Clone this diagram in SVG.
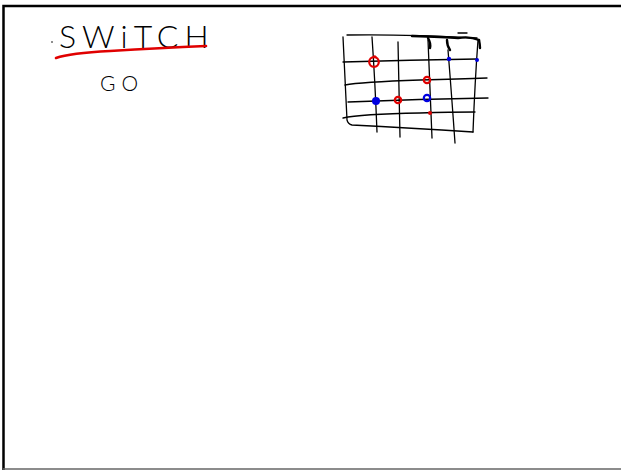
<svg xmlns="http://www.w3.org/2000/svg" width="621" height="470" viewBox="0 0 621 470">
<style>
.ink{fill:none;stroke:#000;stroke-width:1.3;stroke-linecap:round;stroke-linejoin:round}
.thick{fill:none;stroke:#000;stroke-width:2.4;stroke-linecap:round;stroke-linejoin:round}
.hand{font-family:Lato,"Liberation Sans",sans-serif;font-weight:300;fill:#000}
.rc{fill:none;stroke:#e00000;stroke-width:2.2}
.bc{fill:none;stroke:#0000e0;stroke-width:2.2}
</style>
<rect width="621" height="470" fill="#fff"/>
<g id="frame">
<path d="M3.5 470 V6 H621" fill="none" stroke="#000" stroke-width="2.5"/>
<path d="M3 469 H621" fill="none" stroke="#666" stroke-width="1.5"/>
</g>
<g id="title">
<text class="hand" x="59" y="48" font-size="32" letter-spacing="6">SWiTCH</text>
<path d="M56 58 Q70 53 110 51 Q160 48 206 46" fill="none" stroke="#e00000" stroke-width="2.6" stroke-linecap="round"/>
<circle cx="52" cy="42" r="0.8" fill="#000"/>
</g>
<g id="go">
<text class="hand" x="100" y="91" font-size="21" letter-spacing="6">GO</text>
</g>
<g id="grid">
<path class="ink" d="M347 35 Q400 34 477 38"/>
<path class="thick" d="M412 36 Q445 37 458 38 Q470 36 479 40"/>
<path class="thick" d="M428 38 Q431 43 430 48"/>
<path class="thick" d="M447 40 Q447 46 450 50"/>
<path class="thick" d="M479 40 Q480 45 480 48"/>
<path class="ink" d="M458 33 H467"/>
<path class="ink" d="M343 37 Q345 80 347 120 Q348 124 352 125 Q410 128 473 132"/>
<path class="ink" d="M372 37 Q375 80 377 132"/>
<path class="ink" d="M398 42 Q399 90 400 137"/>
<path class="ink" d="M428 40 Q430 90 432 138"/>
<path class="ink" d="M448 50 Q452 100 455 143"/>
<path class="ink" d="M478 40 Q475 80 473 132"/>
<path class="ink" d="M343 62 Q410 60 477 59"/>
<path class="ink" d="M345 85 Q360 82 420 80 Q460 79 487 78"/>
<path class="ink" d="M348 102 Q420 99 488 98"/>
<path class="ink" d="M343 118 Q360 114 420 113 Q450 112 475 112"/>
</g>
<g id="marks">
<circle class="rc" cx="374" cy="62" r="4.8" stroke-width="2.5"/>
<path d="M373 57 Q376 55 376 58" fill="none" stroke="#e00000" stroke-width="1.8"/>
<circle cx="449" cy="59" r="2.2" fill="#0000e0"/>
<circle cx="477" cy="60" r="2" fill="#0000e0"/>
<circle class="rc" cx="427" cy="80" r="3.2"/>
<circle cx="376" cy="101" r="4" fill="#0000e0"/>
<circle class="rc" cx="398" cy="100" r="3.2" stroke-width="2.6"/>
<circle class="bc" cx="427" cy="98" r="3.2"/>
<circle cx="430" cy="113" r="2" fill="#e00000"/>
</g>
</svg>
